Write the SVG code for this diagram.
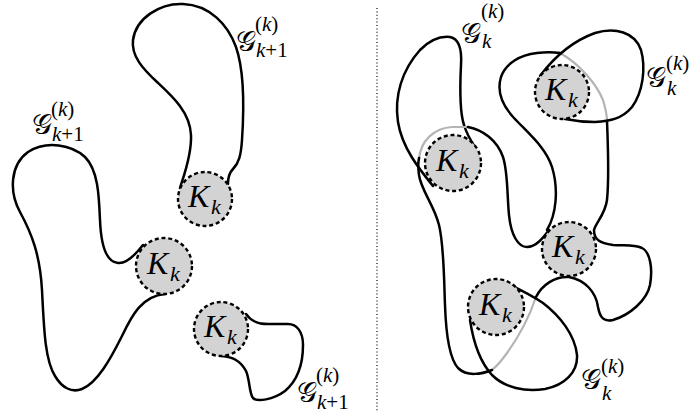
<svg xmlns="http://www.w3.org/2000/svg" width="692" height="414" viewBox="0 0 692 414">
<style>
.set{fill:none;stroke:#000;stroke-width:2.5;stroke-linecap:round;stroke-linejoin:round}
.hid{fill:none;stroke:#b4b4b4;stroke-width:2.2;stroke-linecap:round}
.kc{fill:#d3d3d3;stroke:#000;stroke-width:2.4;stroke-dasharray:4 2.8}
.K{font-family:"Liberation Serif",serif;font-style:italic;font-size:32px;fill:#000}
.ks{font-family:"Liberation Serif",serif;font-style:italic;font-size:22px;fill:#000}
.lab{font-family:"Liberation Serif",serif;fill:#000}
.cal{font-family:"DejaVu Serif","DejaVu Sans","Liberation Serif",serif;font-size:28px;font-style:normal}
.sc{font-size:21px;font-style:normal}
.it{font-style:italic}
.sep{stroke:#000;stroke-width:1.2;stroke-dasharray:1 2.4;fill:none}
</style>
<line class="sep" x1="377" y1="8" x2="377" y2="412"/>
<g id="connectors">
<path class="set" d="M180,188 C183,178 192,155 191,135 C190,112 172,96 157,82 C143,69 131,56 133,40 C136,18 160,3 183,4 C210,5 228,25 236,47 C244,70 244,110 242,140 C241,155 239,163 233,169 C229,173 228,178 228,184"/>
<path class="set" d="M143,245 C136,254 127,264 118,263 C106,262 101,245 100,220 C99,195 98,170 85,157 C72,145 47,140 28,152 C10,165 9,192 20,212 C32,234 40,255 42,290 C44,330 45,360 55,376 C62,388 72,393 82,389 C97,383 110,360 122,336 C132,315 142,296 165,294"/>
<path class="set" d="M246,314 C251,321 257,324 268,324 L288,324 C297,324 303,332 303,345 C303,362 298,380 285,391 C273,400 257,402 253,398 C249,393 250,380 246,371 C240,360 232,357 222,356"/>
<path class="set" d="M433,186 C420,170 402,148 398,122 C394,96 402,70 420,50 C430,40 440,36 450,37 C460,39 462,50 461,65 C460,85 459,110 464,125 C467,135 471,141 475,147"/>
<path class="hid" d="M419,160 C420,140 435,128 452,127 C458,127 464,127 468,127"/>
<path class="hid" d="M560,53 C580,64 597,85 603,100 C606,110 607,117 607,121"/>
<path class="hid" d="M536,297 C530,315 520,335 507,353 C502,360 497,366 492,370"/>
<path class="set" d="M468,127 C483,130 497,140 503,157 C508,172 507,195 509,215 C511,235 518,247 527,247 C536,247 543,238 549,230"/>
<path class="set" d="M547,230 C556,215 559,190 552,167 C546,148 530,135 514,118 C501,104 497,90 501,77 C506,63 520,55 537,53 C545,52 553,52 560,53"/>
<path class="set" d="M607,121 C608,145 609,180 607,200 C605,215 596,222 594,230 C594,240 600,243 613,245 C625,246 633,244 642,248 C650,252 653,268 650,285 C647,300 630,315 613,320 C604,322 600,318 598,307 C596,292 585,280 569,277 C555,276 542,285 536,297"/>
<path class="set" d="M492,370 C482,374 467,377 458,368 C449,358 446,335 445,305 C444,280 444,245 439,225 C434,205 421,190 419,175 C418,168 418,163 419,158"/>
<path class="set" d="M540,76 C552,60 570,42 595,33 C615,27 635,32 641,50 C646,68 643,92 632,107 C622,119 610,121 595,122 C585,122 575,121 565,119"/>
<path class="set" d="M502,281 C515,287 530,294 543,303 C560,316 575,335 577,355 C578,372 565,385 545,389 C525,392 505,388 492,375 C480,362 473,340 470,320"/>
</g>
<g id="K1"><circle class="kc" cx="205" cy="199" r="27"/><text class="K" x="188" y="207">K</text><text class="ks" x="211" y="214">k</text></g>
<g id="K2"><circle class="kc" cx="164" cy="266" r="28"/><text class="K" x="147" y="274">K</text><text class="ks" x="170" y="281">k</text></g>
<g id="K3"><circle class="kc" cx="221" cy="329" r="27"/><text class="K" x="204" y="337">K</text><text class="ks" x="227" y="344">k</text></g>
<g id="KA"><circle class="kc" cx="562" cy="92" r="27"/><text class="K" x="545" y="100">K</text><text class="ks" x="568" y="107">k</text></g>
<g id="KB"><circle class="kc" cx="453" cy="163" r="28"/><text class="K" x="436" y="171">K</text><text class="ks" x="459" y="178">k</text></g>
<g id="KC"><circle class="kc" cx="569" cy="249" r="27"/><text class="K" x="552" y="257">K</text><text class="ks" x="575" y="264">k</text></g>
<g id="KD"><circle class="kc" cx="496" cy="307" r="28"/><text class="K" x="479" y="315">K</text><text class="ks" x="502" y="322">k</text></g>
<g id="labels">
<text class="lab"><tspan class="cal" x="236" y="51">𝒢</tspan><tspan class="sc" x="255" y="31">(<tspan class="it">k</tspan>)</tspan><tspan class="sc" x="256" y="57"><tspan class="it">k</tspan>+1</tspan></text>
<text class="lab"><tspan class="cal" x="32" y="134">𝒢</tspan><tspan class="sc" x="51" y="116">(<tspan class="it">k</tspan>)</tspan><tspan class="sc" x="52" y="141"><tspan class="it">k</tspan>+1</tspan></text>
<text class="lab"><tspan class="cal" x="297" y="402">𝒢</tspan><tspan class="sc" x="316" y="382">(<tspan class="it">k</tspan>)</tspan><tspan class="sc" x="317" y="409"><tspan class="it">k</tspan>+1</tspan></text>
<text class="lab"><tspan class="cal" x="461" y="43">𝒢</tspan><tspan class="sc" x="481" y="18">(<tspan class="it">k</tspan>)</tspan><tspan class="sc" x="482" y="48"><tspan class="it">k</tspan></tspan></text>
<text class="lab"><tspan class="cal" x="646" y="87">𝒢</tspan><tspan class="sc" x="666" y="70">(<tspan class="it">k</tspan>)</tspan><tspan class="sc" x="667" y="95"><tspan class="it">k</tspan></tspan></text>
<text class="lab"><tspan class="cal" x="581" y="389">𝒢</tspan><tspan class="sc" x="601" y="373">(<tspan class="it">k</tspan>)</tspan><tspan class="sc" x="602" y="400"><tspan class="it">k</tspan></tspan></text>
</g>
</svg>
